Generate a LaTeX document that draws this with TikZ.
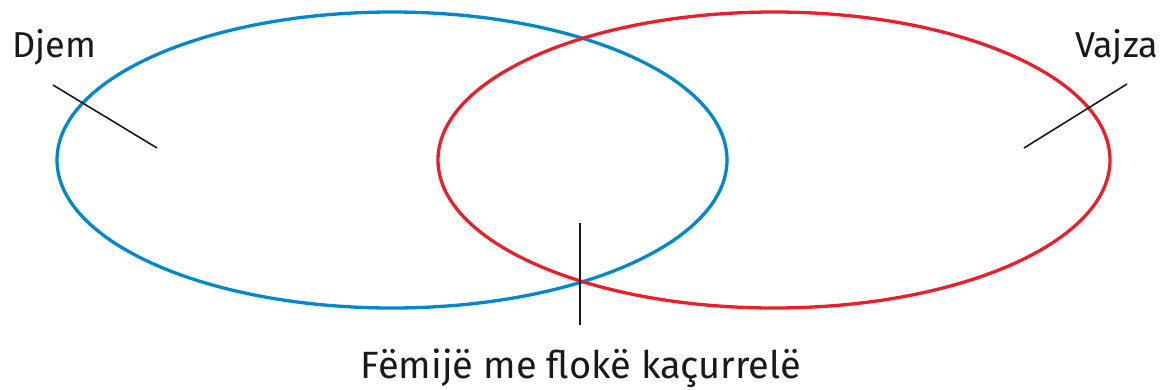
\documentclass[tikz,border=0pt]{standalone}
\usepackage{fontspec}
\setmainfont{Fira Sans}
\definecolor{setblue}{RGB}{0,136,204}
\definecolor{setred}{RGB}{232,32,42}
\begin{document}
\begin{tikzpicture}[x=1pt,y=-1pt,
  setring/.style={line width=3.3pt},
  pointer/.style={line width=1.6pt,black!90},
  lbl/.style={font=\fontsize{36}{40}\selectfont, inner sep=0pt, text=black!90}]
\useasboundingbox (0,0) rectangle (1166,389);
\draw[setring,setblue] (392,160) ellipse [x radius=335, y radius=148];
\draw[setring,setred] (774,160) ellipse [x radius=336, y radius=148];
\node[lbl,anchor=base west] (djem) at (12,57) {Djem};
\node[lbl,anchor=base east] (vajza) at (1158,57) {Vajza};
\node[lbl,font=\fontsize{38}{42}\selectfont,anchor=base] (both) at (581,378) {Fëmijë me flokë kaçurrelë};
\coordinate (d1) at (53,85); \coordinate (d2) at (157,148);
\coordinate (v1) at (1127,84); \coordinate (v2) at (1024,148);
\coordinate (b1) at (580,223); \coordinate (b2) at (580,325);
\draw[pointer] (d1) -- (d2);
\draw[pointer] (v1) -- (v2);
\draw[pointer] (b1) -- (b2);
\end{tikzpicture}
\end{document}
